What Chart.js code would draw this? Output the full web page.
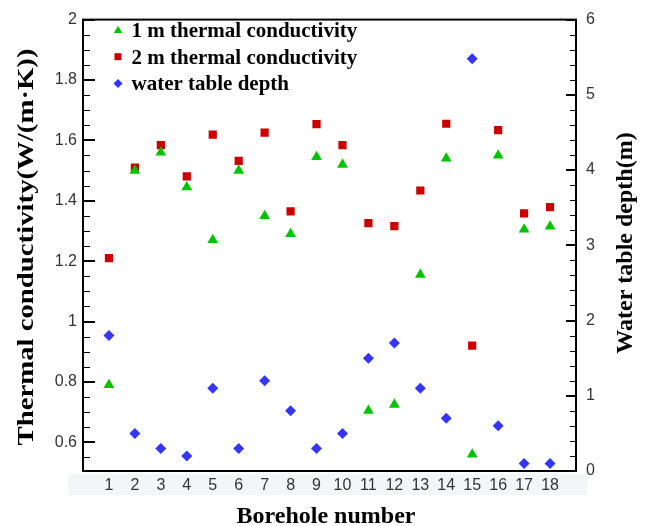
<!DOCTYPE html>
<html><head><meta charset="utf-8">
<script src="https://cdn.jsdelivr.net/npm/chart.js@4/dist/chart.umd.min.js"></script>
<style>html,body{margin:0;padding:0;background:#fff;}#wrap{width:645px;height:526px;}</style>
</head><body><div id="wrap"><canvas id="c" width="645" height="526"></canvas></div>
<script>
// ---- data ----
const boreholes = [1,2,3,4,5,6,7,8,9,10,11,12,13,14,15,16,17,18];
const tc1m = [0.79,1.50,1.56,1.445,1.27,1.50,1.35,1.29,1.545,1.52,0.705,0.725,1.155,1.54,0.56,1.55,1.305,1.315];
const tc2m = [1.21,1.51,1.584,1.481,1.619,1.532,1.626,1.365,1.654,1.584,1.326,1.316,1.434,1.655,0.92,1.634,1.358,1.379];
const waterDepth = [1.8,0.5,0.3,0.2,1.1,0.3,1.2,0.8,0.3,0.5,1.5,1.7,1.1,0.7,5.48,0.6,0.1,0.1];
const leftTicks = [0.6,0.8,1,1.2,1.4,1.6,1.8,2];
const rightTicks = [0,1,2,3,4,5,6];
const xTicks = [1,2,3,4,5,6,7,8,9,10,11,12,13,14,15,16,17,18];
const seriesLabels = ['1 m thermal conductivity','2 m thermal conductivity','water table depth'];
const xTitle = 'Borehole number';
const yTitle = 'Thermal conductivity(W/(m\u00B7K))';
const y2Title = 'Water table depth(m)';

const GREEN = '#00c400', RED = '#cc0000', BLUE = '#3535f5';
const pts = (arr) => arr.map((v, i) => ({x: boreholes[i], y: v}));
const tickFont = {family: '"Liberation Sans", Arial, sans-serif', size: 16};
const fmt = (v) => String(+Number(v).toFixed(2));

const decor = {
  id: 'decor',
  beforeDraw(chart) {
    const ctx = chart.ctx;
    ctx.save();
    ctx.fillStyle = '#f3f5f8';
    ctx.fillRect(68, 474, 519, 21);
    ctx.restore();
  },
  afterDraw(chart) {
    const ctx = chart.ctx, a = chart.chartArea;
    const sy = chart.scales.y, sy2 = chart.scales.y2;
    ctx.save();
    ctx.strokeStyle = '#000';
    ctx.lineCap = 'butt';
    // left ticks (inward)
    for (let k = 0; k < leftTicks.length - 1; k++) {
      const lo = leftTicks[k], hi = leftTicks[k + 1];
      for (let m = 1; m < 4; m++) {
        const v = lo + (hi - lo) * m / 4;
        const py = Math.round(sy.getPixelForValue(v)) + 0.5;
        ctx.lineWidth = 1; ctx.beginPath(); ctx.moveTo(a.left, py); ctx.lineTo(a.left + 7, py); ctx.stroke();
      }
    }
    // minor below first major
    { const step = (leftTicks[1] - leftTicks[0]) / 4;
      for (let v = leftTicks[0] - step; v > sy.min; v -= step) {
        const py = Math.round(sy.getPixelForValue(v)) + 0.5;
        ctx.lineWidth = 1; ctx.beginPath(); ctx.moveTo(a.left, py); ctx.lineTo(a.left + 7, py); ctx.stroke();
      } }
    leftTicks.forEach(v => {
      const py = Math.round(sy.getPixelForValue(v));
      ctx.lineWidth = 2; ctx.beginPath(); ctx.moveTo(a.left, py); ctx.lineTo(a.left + 12, py); ctx.stroke();
    });
    // right ticks (inward)
    for (let k = 0; k < rightTicks.length - 1; k++) {
      const lo = rightTicks[k], hi = rightTicks[k + 1];
      for (let m = 1; m < 5; m++) {
        const v = lo + (hi - lo) * m / 5;
        const py = Math.round(sy2.getPixelForValue(v)) + 0.5;
        ctx.lineWidth = 1; ctx.beginPath(); ctx.moveTo(a.right, py); ctx.lineTo(a.right - 6, py); ctx.stroke();
      }
    }
    rightTicks.forEach(v => {
      const py = Math.round(sy2.getPixelForValue(v));
      ctx.lineWidth = 2; ctx.beginPath(); ctx.moveTo(a.right, py); ctx.lineTo(a.right - 10, py); ctx.stroke();
    });
    // frame
    ctx.lineWidth = 2;
    ctx.strokeRect(a.left, a.top, a.right - a.left, a.bottom - a.top);

    // titles
    ctx.fillStyle = '#000';
    ctx.font = 'bold 24px "Liberation Serif", "Times New Roman", serif';
    ctx.textAlign = 'center'; ctx.textBaseline = 'alphabetic';
    ctx.fillText(xTitle, 326, 523);
    ctx.save();
    ctx.translate(33, 247); ctx.rotate(-Math.PI / 2);
    const w = ctx.measureText(yTitle).width;
    ctx.scale(397 / w, 1);
    ctx.fillText(yTitle, 0, 0);
    ctx.restore();
    ctx.save();
    ctx.translate(632, 243); ctx.rotate(-Math.PI / 2);
    ctx.fillText(y2Title, 0, 0);
    ctx.restore();

    // legend
    ctx.font = 'bold 21px "Liberation Serif", "Times New Roman", serif';
    ctx.textAlign = 'left';
    chart.data.datasets.forEach((ds, i) => {
      const cy = 30 + i * 26.7, cx = 118;
      ctx.fillStyle = ds.backgroundColor;
      ctx.beginPath();
      if (ds.pointStyle === 'triangle') {
        const r = 4.8;
        ctx.moveTo(cx, cy - r * 0.9); ctx.lineTo(cx + 0.866 * r, cy + 0.6 * r); ctx.lineTo(cx - 0.866 * r, cy + 0.6 * r);
      } else if (ds.pointStyle === 'rect') {
        ctx.rect(cx - 3.5, cy - 3.5, 7, 7);
      } else {
        const r = 4.5;
        ctx.moveTo(cx, cy - r); ctx.lineTo(cx + r, cy); ctx.lineTo(cx, cy + r); ctx.lineTo(cx - r, cy);
      }
      ctx.closePath(); ctx.fill();
      ctx.fillStyle = '#000';
      ctx.fillText(ds.label, 131.5, cy + 7);
    });
    ctx.restore();
  }
};

new Chart(document.getElementById('c'), {
  type: 'scatter',
  data: {
    datasets: [
      {label: seriesLabels[0], data: pts(tc1m), yAxisID: 'y', pointStyle: 'triangle', pointRadius: 6.2,
       backgroundColor: GREEN, borderColor: GREEN, borderWidth: 0},
      {label: seriesLabels[1], data: pts(tc2m), yAxisID: 'y', pointStyle: 'rect', pointRadius: 5.8,
       backgroundColor: RED, borderColor: RED, borderWidth: 0},
      {label: seriesLabels[2], data: pts(waterDepth), yAxisID: 'y2', pointStyle: 'rectRot', pointRadius: 5.5,
       backgroundColor: BLUE, borderColor: BLUE, borderWidth: 0}
    ]
  },
  options: {
    responsive: false, animation: false, devicePixelRatio: 1,
    layout: {padding: {top: 16, left: 0, right: 0, bottom: 0}},
    plugins: {legend: {display: false}, tooltip: {enabled: false}},
    scales: {
      x: {type: 'linear', position: 'bottom', min: 0, max: 19,
          afterBuildTicks: s => { s.ticks = xTicks.map(v => ({value: v})); },
          afterFit: s => { s.height = 55; },
          grid: {display: false, drawTicks: false}, border: {display: false},
          ticks: {font: tickFont, color: '#333', padding: 5, maxRotation: 0, autoSkip: false, callback: fmt}},
      y: {type: 'linear', position: 'left', min: 0.505, max: 2,
          afterBuildTicks: s => { s.ticks = leftTicks.map(v => ({value: v})); },
          afterFit: s => { s.width = 83; },
          grid: {display: false, drawTicks: false}, border: {display: false},
          ticks: {font: tickFont, color: '#333', padding: 6, callback: fmt}},
      y2: {type: 'linear', position: 'right', min: 0, max: 6,
          afterBuildTicks: s => { s.ticks = rightTicks.map(v => ({value: v})); },
          afterFit: s => { s.width = 69; },
          grid: {display: false, drawTicks: false}, border: {display: false},
          ticks: {font: tickFont, color: '#333', padding: 10, callback: fmt}}
    }
  },
  plugins: [decor]
});
</script></body></html>
